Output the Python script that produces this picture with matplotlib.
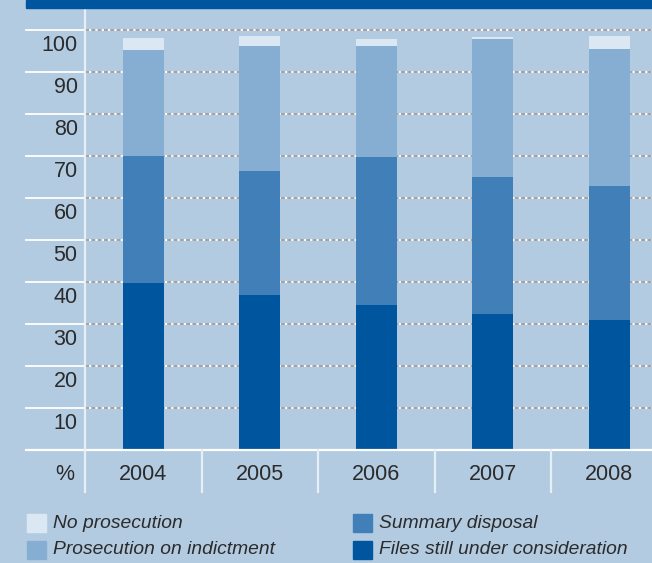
import numpy as np
import matplotlib.pyplot as plt
from matplotlib.patches import Rectangle

plt.rcParams['font.family'] = ['Liberation Sans', 'DejaVu Sans']

# data (percent)
years = ['2004', '2005', '2006', '2007', '2008']
files_pending = [39.8, 36.9, 34.5, 32.4, 31.0]
summary_disposal = [30.2, 29.5, 35.3, 32.6, 31.9]
prosecution_indictment = [25.2, 29.8, 26.4, 32.9, 32.6]
no_prosecution = [2.9, 2.4, 1.7, 0.4, 3.1]
y_ticks = [10, 20, 30, 40, 50, 60, 70, 80, 90, 100]

series = [
    ('Files still under consideration', files_pending, '#00559f'),
    ('Summary disposal', summary_disposal, '#417fb9'),
    ('Prosecution on indictment', prosecution_indictment, '#86aed3'),
    ('No prosecution', no_prosecution, '#dbe7f3'),
]

bg = '#b3cbe1'
txt = '#2b2b2b'
W, H = 652, 563

fig = plt.figure(figsize=(W / 100, H / 100), dpi=100)
fig.patch.set_facecolor(bg)
ax = fig.add_axes([85 / W, 113 / H, 567 / W, 442 / H])
ax.set_facecolor(bg)
for s in ax.spines.values():
    s.set_visible(False)
ax.set_xticks([])
ax.set_yticks([])

ax.set_xlim(-0.5, -0.5 + 567 / 116.5)
ax.set_ylim(0, 442 / 4.2)

x = np.arange(len(years))

# grid lines: solid white in the label area, dashed inside the plot
for v in y_ticks:
    ax.plot([-0.104, 0], [v, v], color='white', lw=1.3,
            transform=ax.get_yaxis_transform(), clip_on=False)
    ax.axhline(v, color='white', lw=1.3, zorder=1)
    ax.axhline(v, color='#9a9a9a', lw=1.3, ls=(0, (2.2, 1.3)), zorder=1.5)
    ax.text(-0.013, v - 3.6, str(v), transform=ax.get_yaxis_transform(),
            ha='right', va='center', fontsize=15.5, color=txt)

# stacked bars
bottom = np.zeros(len(years))
for name, vals, col in series:
    ax.bar(x, vals, width=0.352, bottom=bottom, color=col, zorder=3,
           edgecolor=col, linewidth=0)
    bottom += np.array(vals)

# baseline, axis line and category separators
ax.plot([-0.104, 1], [0, 0], color='white', lw=1.6,
        transform=ax.get_yaxis_transform(), clip_on=False, zorder=4)
ax.plot([-0.5, -0.5], [0, 105.2], color='#e6eef6', lw=1.6, zorder=4, clip_on=False)
for b in np.arange(-0.5, len(years) - 0.5):
    ax.plot([b, b], [0, -42 / 4.2], color='#e6eef6', lw=1.6, clip_on=False, zorder=4)

for xi, yr in zip(x, years):
    ax.text(xi, -24 / 4.2, yr, ha='center', va='center', fontsize=15.5, color=txt)
ax.text(-0.019, -24 / 4.2, '%', transform=ax.get_yaxis_transform(),
        ha='right', va='center', fontsize=15.5, color=txt)

# dark band at top
fig.patches.append(Rectangle((26 / W, (H - 7.5) / H), (W - 26) / W, 7.5 / H,
                             transform=fig.transFigure, color='#00559f'))

# legend
legend_pos = [
    ('No prosecution', '#dbe7f3', 27, 523),
    ('Prosecution on indictment', '#86aed3', 27, 550),
    ('Summary disposal', '#417fb9', 353, 523),
    ('Files still under consideration', '#00559f', 353, 550),
]
for name, col, px, py in legend_pos:
    fig.patches.append(Rectangle((px / W, (H - py - 9) / H), 19 / W, 18 / H,
                                 transform=fig.transFigure, color=col))
    fig.text((px + 26) / W, (H - py) / H, name, ha='left', va='center',
             fontsize=13.9, style='italic', color=txt)

fig.savefig('out.png', dpi=100, facecolor=bg)
